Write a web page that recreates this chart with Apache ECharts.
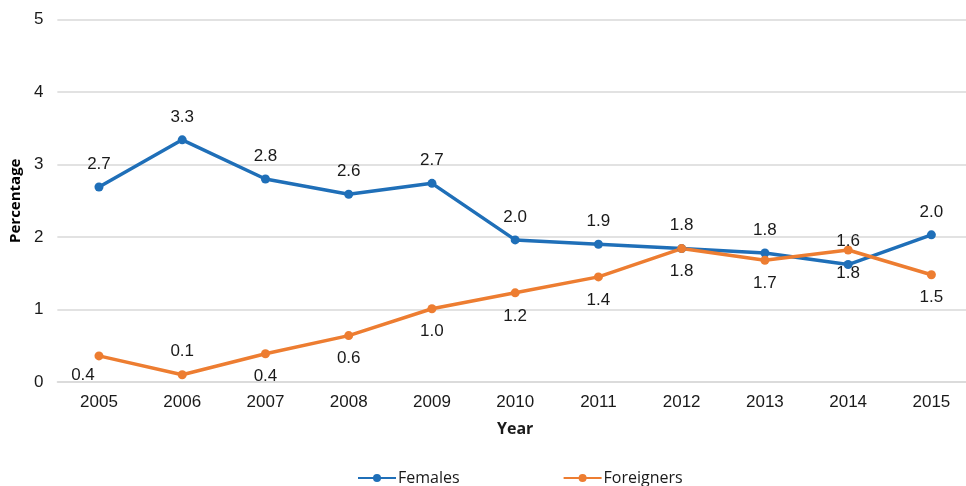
<!DOCTYPE html>
<html>
<head>
<meta charset="utf-8">
<script src="https://cdn.jsdelivr.net/npm/echarts@6/dist/echarts.min.js"></script>
<style>html,body{margin:0;padding:0;background:#fff;overflow:hidden;width:966px;height:486px}#c{width:973px;height:486px}</style>
</head>
<body>
<div id="c"></div>
<script>
const years = ['2005','2006','2007','2008','2009','2010','2011','2012','2013','2014','2015'];
const females = [2.69, 3.34, 2.80, 2.59, 2.74, 1.96, 1.90, 1.84, 1.78, 1.62, 2.03];
const foreigners = [0.36, 0.10, 0.39, 0.64, 1.01, 1.23, 1.45, 1.84, 1.68, 1.82, 1.48];
const yTicks = [0, 1, 2, 3, 4, 5];

const labelFont = {fontFamily: 'Liberation Sans, Arial, sans-serif', fontSize: 17, color: '#1a1a1a'};
const blue = '#1F6FB8', orange = '#ED7D31';

const forData = foreigners.map((v, i) => {
  if (i === 0) return {value: v, label: {position: 'bottom', offset: [-16, -4]}};
  if (i === 1) return {value: v, label: {position: 'top'}};
  return v;
});

const chart = echarts.init(document.getElementById('c'), null, {renderer: 'canvas'});
chart.setOption({
  animation: false,
  backgroundColor: '#fff',
  grid: {left: 57, right: 0, top: 19.5, bottom: 104},
  xAxis: {
    type: 'category', data: years, boundaryGap: true,
    axisLine: {lineStyle: {color: '#d9d9d9', width: 1.5}},
    axisTick: {show: false},
    axisLabel: Object.assign({margin: 12}, labelFont),
    name: 'Year', nameLocation: 'middle', nameGap: 39,
    nameTextStyle: {fontFamily: 'Open Sans, sans-serif', fontWeight: 'bold', fontSize: 16, color: '#1a1a1a'}
  },
  yAxis: {
    type: 'value', min: yTicks[0], max: yTicks[yTicks.length - 1], interval: 1,
    axisLine: {show: false}, axisTick: {show: false},
    splitLine: {lineStyle: {color: '#d9d9d9', width: 1.5}},
    axisLabel: Object.assign({margin: 14}, labelFont),
    name: 'Percentage', nameLocation: 'middle', nameGap: 33,
    nameTextStyle: {fontFamily: 'Open Sans, sans-serif', fontWeight: 'bold', fontSize: 15, color: '#000'}
  },
  legend: {
    left: 352, top: 465, itemGap: 103, itemWidth: 38, itemHeight: 10,
    textStyle: {fontFamily: 'Open Sans, sans-serif', fontSize: 16, color: '#1a1a1a', padding: [0, 0, 0, -3]}
  },
  series: [
    {
      name: 'Females', type: 'line', data: females,
      symbol: 'circle', symbolSize: 9,
      lineStyle: {color: blue, width: 3.5}, itemStyle: {color: blue},
      label: Object.assign({show: true, position: 'top', distance: 10, formatter: p => p.value.toFixed(1)}, labelFont)
    },
    {
      name: 'Foreigners', type: 'line', data: forData,
      symbol: 'circle', symbolSize: 9,
      lineStyle: {color: orange, width: 3.5}, itemStyle: {color: orange},
      label: Object.assign({show: true, position: 'bottom', distance: 10, formatter: p => (typeof p.value === 'number' ? p.value : p.data.value).toFixed(1)}, labelFont)
    }
  ]
});
</script>
</body>
</html>
